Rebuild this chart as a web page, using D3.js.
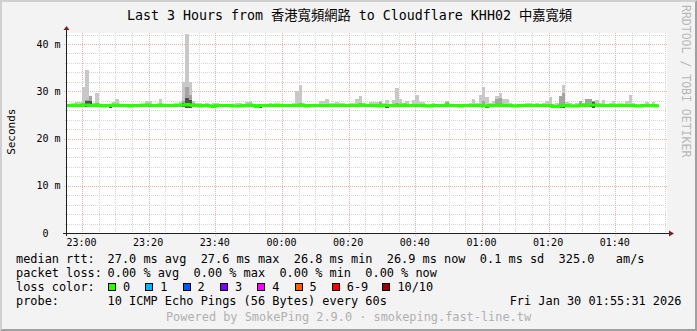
<!DOCTYPE html>
<html><head><meta charset="utf-8">
<script src="https://cdn.jsdelivr.net/npm/d3@7"></script>
<style>
html,body{margin:0;padding:0;background:#f3f3f3;}
svg{display:block;}
text{font-family:"DejaVu Sans Mono","Noto Sans CJK TC",monospace;white-space:pre;}
</style></head><body>
<svg id="chart" width="697" height="331"></svg>
<script>
// ---------- data ----------
const title = "Last 3 Hours from 香港寬頻網路 to Cloudflare KHH02 中嘉寬頻";
const yAxisTitle = "Seconds";
const watermark = "RRDTOOL / TOBI OETIKER";
const graphStart = [2026, 0, 29, 22, 55, 31];
const graphEnd   = [2026, 0, 30, 1, 55, 31];
const firstSample = [2026, 0, 29, 22, 55, 0];   // start of first 60 s step
const yTickValues = [0, 10, 20, 30, 40];          // ms
const yTickLabels = ["0  ", "10 m", "20 m", "30 m", "40 m"];
const xTickLabels = ["23:00","23:20","23:40","00:00","00:20","00:40","01:00","01:20","01:40"];

// median rtt per minute (ms)
const medianRtt = [
 27.0,27.0,27.1,27.0,27.0,27.1,27.1,27.0,27.0,27.1,27.0,26.9,27.0,27.0,27.1,27.1,27.0,27.0,27.0,26.9,
 27.0,27.0,27.0,27.1,27.1,27.0,27.0,27.0,27.1,27.0,27.0,27.0,27.0,27.1,27.1,27.1,27.2,27.1,27.0,27.0,
 26.9,27.0,27.0,26.9,26.8,27.0,27.0,27.0,27.0,27.0,26.9,26.9,26.9,27.0,27.0,27.1,27.0,26.8,27.0,27.0,
 27.0,27.0,27.0,27.1,27.0,27.0,27.0,27.0,27.0,27.0,27.1,27.0,26.9,27.0,27.0,27.0,27.0,27.0,27.0,27.0,
 27.0,27.0,27.0,27.0,27.0,27.0,27.0,27.0,27.1,27.1,27.0,27.0,27.0,27.0,26.9,27.0,27.0,27.0,27.0,27.0,
 27.0,27.1,27.0,27.0,27.0,27.0,27.0,27.0,26.9,26.9,27.0,27.0,27.0,27.0,27.1,27.0,27.0,27.0,26.9,27.0,
 27.0,27.0,27.0,27.0,27.0,26.9,26.9,27.0,27.0,27.0,27.1,27.0,27.0,27.0,26.9,26.9,27.0,27.0,27.0,27.0,
 27.0,27.0,27.0,27.0,27.0,27.0,26.8,26.8,26.9,27.0,27.0,26.9,26.9,26.9,27.0,27.1,27.0,27.1,27.1,27.1,
 27.0,27.0,27.0,27.0,27.0,27.0,27.1,27.0,27.0,27.0,27.0,26.9,26.9,27.0,27.0,27.0,27.0,26.9
];
// highest ping per minute (top of light smoke)
const smokeMax = [
 27.2,27.3,27.4,27.7,27.7,31.0,34.5,29.0,27.6,29.7,27.3,27.3,27.2,27.3,27.7,28.4,27.3,27.2,27.3,27.3,
 27.3,27.2,27.3,27.4,28.0,28.0,27.4,27.3,28.4,27.4,27.3,27.3,27.3,27.4,27.7,32.0,42.2,32.0,28.0,27.6,
 27.5,27.4,27.6,27.4,27.5,27.5,27.4,27.3,27.3,27.4,27.3,27.6,27.6,27.4,27.8,28.0,27.4,27.3,27.3,27.3,
 27.4,27.5,27.3,27.3,27.4,27.3,27.3,27.4,27.5,30.0,31.3,27.5,27.4,27.3,27.3,27.4,28.0,28.0,28.4,27.5,
 27.5,27.7,27.5,27.5,27.4,27.5,27.5,28.4,29.0,27.5,27.4,27.7,27.7,27.7,28.0,27.5,28.2,27.4,28.2,30.7,
 28.4,27.5,28.0,27.4,28.2,29.2,27.7,27.7,27.4,27.3,27.5,27.3,27.3,27.4,28.0,27.4,27.3,27.3,27.4,27.3,
 27.4,27.5,28.4,27.5,29.2,30.9,28.8,27.5,28.0,29.0,29.7,28.4,28.4,27.5,27.4,27.3,27.3,27.4,27.5,27.5,
 27.4,27.5,27.4,27.5,28.0,28.8,27.4,27.5,29.0,31.4,27.7,27.5,27.4,27.5,28.0,27.6,28.4,28.4,27.8,28.2,
 27.5,28.2,27.4,27.5,28.0,27.4,27.3,27.4,28.0,29.2,27.5,27.3,27.3,27.4,27.7,27.4,27.7,27.4
];
// upper inner pings (top of medium smoke)
const smokeMid = [
 27.0,27.0,27.0,27.0,27.0,27.6,28.2,29.0,27.0,27.5,27.0,27.0,27.0,27.0,27.0,27.0,27.0,27.0,27.0,27.0,
 27.0,27.0,27.0,27.0,27.0,27.0,27.0,27.0,27.0,27.0,27.0,27.0,27.0,27.0,27.0,28.0,31.0,29.2,27.6,27.0,
 27.0,27.0,27.0,27.0,27.0,27.0,27.0,27.0,27.0,27.0,27.0,27.0,27.0,27.0,27.0,27.0,27.0,27.0,27.0,27.0,
 27.0,27.0,27.0,27.0,27.0,27.0,27.0,27.0,27.0,27.0,27.6,27.0,27.0,27.0,27.0,27.0,27.0,27.0,27.0,27.0,
 27.0,27.0,27.0,27.0,27.0,27.0,27.0,27.0,27.6,27.0,27.0,27.0,27.0,27.0,27.8,27.0,27.0,27.0,27.0,27.6,
 27.0,27.0,27.0,27.0,27.0,27.0,27.0,27.0,27.0,27.0,27.0,27.0,27.0,27.0,27.8,27.0,27.0,27.0,27.0,27.0,
 27.0,27.0,27.0,27.0,27.0,28.0,27.0,27.0,27.0,28.4,28.6,27.0,27.0,27.0,27.0,27.0,27.0,27.0,27.0,27.0,
 27.0,27.0,27.0,27.0,27.0,27.0,27.0,27.0,29.0,29.7,27.0,27.0,27.0,27.0,28.0,27.0,28.3,28.3,27.9,27.0,
 27.0,27.0,27.0,27.0,27.0,27.0,27.0,27.0,27.0,27.0,27.0,27.0,27.0,27.0,27.0,27.0,27.0,27.0
];
// core pings (top of dark smoke)
const smokeDark = [
 26.7,26.7,26.7,26.7,26.7,26.7,27.9,28.0,26.7,26.7,26.7,26.7,26.7,26.9,26.7,26.7,26.7,26.7,26.7,26.7,
 26.7,26.7,26.7,26.7,26.7,26.7,26.7,26.7,26.7,26.7,26.7,26.7,26.7,26.7,26.7,27.6,28.6,28.1,26.7,26.7,
 26.7,26.7,26.7,26.7,26.7,26.7,26.7,26.7,26.7,26.7,26.7,26.7,26.7,26.7,26.7,26.7,26.7,26.7,26.7,26.7,
 26.7,26.7,26.7,26.7,26.7,26.7,26.7,26.7,26.7,26.7,26.7,26.7,26.7,26.7,26.7,26.7,26.7,26.7,26.7,26.7,
 26.7,26.7,26.7,26.7,26.7,26.7,26.7,26.7,26.7,26.7,26.7,26.7,26.7,26.7,26.7,26.7,26.9,26.7,26.7,26.7,
 26.7,26.7,26.7,26.7,26.7,26.7,26.7,26.7,26.7,26.7,26.7,26.7,26.7,26.7,26.7,26.7,26.7,26.7,26.7,26.7,
 26.7,26.7,26.7,26.7,26.7,26.7,26.9,26.7,26.7,26.7,26.7,26.7,26.7,26.7,26.7,26.7,26.7,26.7,26.7,26.7,
 26.7,26.7,26.7,26.7,26.7,26.7,26.7,26.7,26.7,26.7,26.7,26.7,26.7,26.7,26.7,26.7,26.7,27.0,27.7,26.7,
 26.7,26.7,26.7,26.7,26.7,26.7,26.7,26.7,26.7,26.7,26.7,26.7,26.7,26.7,26.7,26.7,26.7,26.7
];
// lowest ping per minute (bottom of smoke)
const smokeLow = [
 26.7,26.7,26.7,26.7,26.7,26.6,26.6,26.6,26.7,26.7,26.7,26.7,26.7,26.4,26.7,26.7,26.7,26.7,26.7,26.7,
 26.7,26.7,26.7,26.7,26.7,26.7,26.7,26.7,26.7,26.7,26.7,26.7,26.7,26.7,26.7,26.6,26.4,26.5,26.7,26.7,
 26.7,26.7,26.7,26.7,26.6,26.7,26.7,26.7,26.7,26.7,26.7,26.7,26.7,26.7,26.7,26.7,26.7,26.7,26.5,26.7,
 26.7,26.7,26.7,26.7,26.7,26.7,26.7,26.7,26.7,26.7,26.7,26.7,26.7,26.7,26.7,26.7,26.7,26.7,26.7,26.7,
 26.7,26.7,26.7,26.7,26.7,26.7,26.7,26.7,26.7,26.7,26.7,26.7,26.7,26.7,26.7,26.7,26.4,26.7,26.7,26.7,
 26.7,26.7,26.7,26.7,26.7,26.7,26.7,26.7,26.6,26.6,26.7,26.7,26.7,26.7,26.7,26.7,26.7,26.7,26.7,26.7,
 26.7,26.7,26.7,26.7,26.7,26.7,26.4,26.7,26.7,26.7,26.7,26.7,26.7,26.7,26.7,26.7,26.7,26.7,26.7,26.7,
 26.7,26.7,26.7,26.7,26.7,26.7,26.5,26.5,26.5,26.5,26.7,26.6,26.6,26.6,26.7,26.7,26.7,26.6,26.5,26.7,
 26.7,26.7,26.7,26.7,26.7,26.7,26.7,26.7,26.7,26.7,26.7,26.7,26.7,26.7,26.7,26.7,26.7,26.7
];

const rttLabel = "median rtt:";
const rttStats = "27.0 ms avg  27.6 ms max  26.8 ms min  26.9 ms now  0.1 ms sd  325.0   am/s";
const lossLabel = "packet loss:";
const lossStats = "0.00 % avg  0.00 % max  0.00 % min  0.00 % now";
const lossColorLabel = "loss color:";
const lossNames = ["0","1","2","3","4","5","6-9","10/10"];
const lossColors = ["#26ff00","#00b8ff","#0059ff","#7e00ff","#ff00ff","#ff5e00","#ff0000","#a10000"];
const probeLabel = "probe:";
const probeText = "10 ICMP Echo Pings (56 Bytes) every 60s";
const dateText = "Fri Jan 30 01:55:31 2026";
const footer = "Powered by SmokePing 2.9.0 · smokeping.fast-line.tw";

// ---------- drawing ----------
const W = 697, H = 331;
const plot = {left: 67, right: 667, top: 33, bottom: 233};
const svg = d3.select("#chart");
const mk = a => new Date(a[0], a[1], a[2], a[3], a[4], a[5]);
const t0 = mk(graphStart), t1 = mk(graphEnd);
const x = d3.scaleTime().domain([t0, t1]).range([plot.left, plot.right]);
const y = d3.scaleLinear().domain([0, 42.33]).range([plot.bottom, plot.top]);
const px = v => Math.round(v) + 0.5;

// background + 3d border
svg.append("rect").attr("width", W).attr("height", H).attr("fill", "#f3f3f3");
svg.append("polygon").attr("points", `0,${H} 2,${H-2} 2,2 ${W-2},2 ${W},0 0,0`).attr("fill", "#d0d0d0");
svg.append("polygon").attr("points", `2,${H-2} ${W-2},${H-2} ${W-2},2 ${W},0 ${W},${H} 0,${H}`).attr("fill", "#a0a0a0");

// canvas
svg.append("rect").attr("x", plot.left).attr("y", plot.top)
  .attr("width", plot.right - plot.left).attr("height", plot.bottom - plot.top).attr("fill", "#ffffff");

const grid = svg.append("g").attr("shape-rendering", "crispEdges");
const minorCol = "#d6d6d6", majorCol = "#f0b0b0";
// horizontal minor every 2 ms
const yMinor = d3.range(0, 42.33, 2).filter(v => v % 10 !== 0);
grid.selectAll(".hmin").data(yMinor).join("line")
  .attr("x1", plot.left - 2).attr("x2", plot.right)
  .attr("y1", d => px(y(d))).attr("y2", d => px(y(d)))
  .attr("stroke", minorCol).attr("stroke-dasharray", "1,1");
// vertical minor every 5 min
const xMinor = d3.timeMinute.every(5).range(t0, t1).filter(d => d.getMinutes() % 20 !== 0);
grid.selectAll(".vmin").data(xMinor).join("line")
  .attr("x1", d => px(x(d))).attr("x2", d => px(x(d)))
  .attr("y1", plot.top).attr("y2", plot.bottom + 2)
  .attr("stroke", minorCol).attr("stroke-dasharray", "1,1");
// major grid
grid.selectAll(".hmaj").data(yTickValues.filter(v => v > 0)).join("line")
  .attr("x1", plot.left - 3).attr("x2", plot.right)
  .attr("y1", d => px(y(d))).attr("y2", d => px(y(d)))
  .attr("stroke", majorCol).attr("stroke-dasharray", "1,1");
const xMajor = d3.timeMinute.every(20).range(t0, t1);
grid.selectAll(".vmaj").data(xMajor).join("line")
  .attr("x1", d => px(x(d))).attr("x2", d => px(x(d)))
  .attr("y1", plot.top).attr("y2", plot.bottom + 3)
  .attr("stroke", majorCol).attr("stroke-dasharray", "1,1");

// smoke
svg.append("clipPath").attr("id", "clip").append("rect")
  .attr("x", plot.left).attr("y", plot.top).attr("width", plot.right - plot.left).attr("height", plot.bottom - plot.top);
const s0 = mk(firstSample);
const times = d3.range(medianRtt.length + 1).map(k => d3.timeMinute.offset(s0, k));
const data = medianRtt.map((m, k) => ({
  t: times[k], t2: times[k + 1], med: m,
  max: smokeMax[k], mid: smokeMid[k], dark: smokeDark[k], low: smokeLow[k]
}));
const sg = svg.append("g").attr("clip-path", "url(#clip)").attr("shape-rendering", "crispEdges");
function band(key, color) {
  sg.append("g").selectAll("rect").data(data.filter(d => d[key] > d.low)).join("rect")
    .attr("x", d => Math.round(x(d.t)))
    .attr("width", d => Math.round(x(d.t2)) - Math.round(x(d.t)))
    .attr("y", d => Math.round(y(d[key])))
    .attr("height", d => Math.round(y(d.low)) - Math.round(y(d[key])))
    .attr("fill", color);
}
band("max", "#c8c8c8");
band("mid", "#a4a4a4");
band("dark", "#505050");

// median line
const linePts = data.map(d => [d.t, d.med]).concat([[times[times.length - 1], medianRtt[medianRtt.length - 1]]]);
svg.append("path").attr("clip-path", "url(#clip)")
  .attr("d", d3.line().x(d => x(d[0])).y(d => y(d[1])).curve(d3.curveStepAfter)(linePts))
  .attr("fill", "none").attr("stroke", "#26ff00").attr("stroke-width", 3);

// axes
const ax = svg.append("g").attr("shape-rendering", "crispEdges");
ax.append("line").attr("x1", plot.left - 0.5).attr("x2", plot.left - 0.5)
  .attr("y1", plot.bottom + 3).attr("y2", plot.top - 4).attr("stroke", "#1f1f1f");
ax.append("line").attr("x1", plot.left - 4).attr("x2", plot.right + 3)
  .attr("y1", plot.bottom + 0.5).attr("y2", plot.bottom + 0.5).attr("stroke", "#1f1f1f");
svg.append("path").attr("d", `M${plot.left - 3.5},${plot.top - 3} L${plot.left + 2.5},${plot.top - 3} L${plot.left - 0.5},${plot.top - 7} Z`).attr("fill", "#801f1f");
svg.append("path").attr("d", `M${plot.right + 2},${plot.bottom - 2.5} L${plot.right + 2},${plot.bottom + 3.5} L${plot.right + 7},${plot.bottom + 0.5} Z`).attr("fill", "#801f1f");

// tick labels
const cw = 6.02;
svg.append("g").selectAll("text").data(yTickValues).join("text")
  .attr("x", (d, i) => 60.5 - yTickLabels[i].length * cw)
  .attr("y", d => y(d) + 3.6)
  .attr("font-size", "10px").attr("fill", "#000")
  .text((d, i) => yTickLabels[i].trimEnd());
svg.append("g").selectAll("text").data(xMajor).join("text")
  .attr("x", d => x(d) - 0.5).attr("y", 246)
  .attr("text-anchor", "middle").attr("font-size", "10px").attr("fill", "#000")
  .text((d, i) => xTickLabels[i]);

// title, axis label, watermark
svg.append("text").attr("x", 349.5).attr("y", 19.5).attr("text-anchor", "middle")
  .attr("font-size", "13.3px").attr("fill", "#000").text(title);
svg.append("text").attr("transform", "translate(15,131.7) rotate(-90)").attr("text-anchor", "middle")
  .attr("font-size", "11px").attr("fill", "#000").text(yAxisTitle);
svg.append("text").attr("transform", "translate(681.5,5) rotate(90)")
  .attr("font-size", "11.5px").attr("fill", "#b8b8b8").text(watermark);

// legend
const lf = "11.9px", lw = 7.15, col2 = 107.6;
const leg = svg.append("g").attr("font-size", lf).attr("fill", "#000");
const rows = [[rttLabel, rttStats, 263], [lossLabel, lossStats, 277.3], [lossColorLabel, "", 291.3], [probeLabel, probeText, 305.3]];
rows.forEach(r => {
  leg.append("text").attr("x", 16).attr("y", r[2]).text(r[0]);
  if (r[1]) leg.append("text").attr("x", col2).attr("y", r[2]).text(r[1]);
});
let bx = 108;
lossNames.forEach((n, i) => {
  leg.append("rect").attr("x", bx + 0.5).attr("y", 283.5).attr("width", 7).attr("height", 7)
    .attr("fill", lossColors[i]).attr("stroke", "#000").attr("stroke-width", 1).attr("shape-rendering", "crispEdges");
  leg.append("text").attr("x", bx + 15).attr("y", 291.3).text(n);
  bx += 37.3 + (n.length - 1) * lw - (n.length > 3 ? 2 : 0) - (n.length === 3 ? 1 : 0);
});
leg.append("text").attr("x", 681.5).attr("y", 305.3).attr("text-anchor", "end").text(dateText);
svg.append("text").attr("x", 348.5).attr("y", 321.3).attr("text-anchor", "middle")
  .attr("font-size", lf).attr("fill", "#b0b0b0").text(footer);
</script>
</body></html>
